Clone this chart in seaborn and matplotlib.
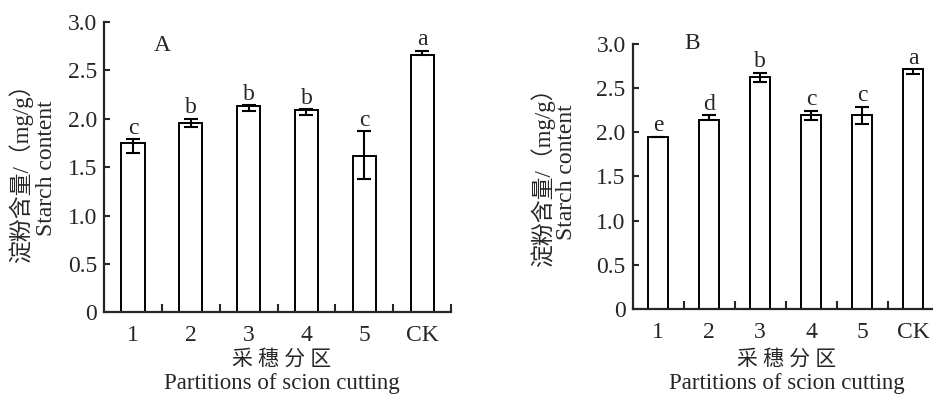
import numpy as np
import pandas as pd
import matplotlib
matplotlib.use('Agg')
import matplotlib.pyplot as plt
import seaborn as sns

sns.set_style('ticks')
plt.rcParams['font.family'] = ['Liberation Serif', 'Noto Sans CJK SC']

# Dane
partycje = ['1', '2', '3', '4', '5', 'CK']

skrobia_a = [1.75, 1.96, 2.13, 2.09, 1.62, 2.66]
blad_a_dol = [0.10, 0.05, 0.05, 0.05, 0.24, 0.00]
blad_a_gora = [0.04, 0.04, 0.01, 0.01, 0.25, 0.04]
litery_a = ['c', 'b', 'b', 'b', 'c', 'a']

skrobia_b = [1.95, 2.14, 2.62, 2.19, 2.19, 2.71]
blad_b_dol = [0.00, 0.00, 0.05, 0.05, 0.10, 0.05]
blad_b_gora = [0.00, 0.05, 0.05, 0.05, 0.10, 0.00]
litery_b = ['e', 'd', 'b', 'c', 'c', 'a']

y_ticks = [0, 0.5, 1.0, 1.5, 2.0, 2.5, 3.0]
y_tick_labels = ['0', '0.5', '1.0', '1.5', '2.0', '2.5', '3.0']

fig = plt.figure(figsize=(9.33, 3.94), dpi=100)
ax_a = fig.add_axes([0.1115, 0.2074, 0.3719, 0.7368])
ax_b = fig.add_axes([0.678, 0.2157, 0.328, 0.6733])


def rysuj_panel(ax, wartosci, dol, gora, litery, panel, panel_xy):
    df = pd.DataFrame({'partycja': partycje, 'skrobia': wartosci})
    sns.barplot(data=df, x='partycja', y='skrobia', color='white',
                edgecolor='black', linewidth=1.4, width=0.4, ax=ax,
                saturation=1)
    pozycje = np.arange(len(partycje))
    ax.errorbar(pozycje, wartosci, yerr=[dol, gora], fmt='none',
                ecolor='black', elinewidth=1.5, capsize=5, capthick=1.5)
    for x, w, g, lit in zip(pozycje, wartosci, gora, litery):
        ax.annotate(lit, (x, w + g), xytext=(0, 4), textcoords='offset points',
                    ha='center', va='baseline', fontsize=17)
    ax.set_xlim(-0.5, 5.5)
    ax.set_ylim(0, 3.0)
    ax.set_yticks(y_ticks)
    ax.set_yticklabels(y_tick_labels)
    ax.set_xticks(np.arange(0.5, 6, 1), minor=True)
    ax.tick_params(axis='x', which='major', length=0, pad=9, labelsize=17)
    ax.tick_params(axis='x', which='minor', direction='in', length=6, width=1.5)
    ax.tick_params(axis='y', direction='in', length=4.5, width=1.5, pad=5,
                   labelsize=17)
    sns.despine(ax=ax)
    for s in ['left', 'bottom']:
        ax.spines[s].set_linewidth(1.6)
    ax.set_xlabel('')
    ax.set_ylabel('')
    ax.text(panel_xy[0], panel_xy[1], panel, transform=ax.transAxes,
            ha='center', va='baseline', fontsize=17)


rysuj_panel(ax_a, skrobia_a, blad_a_dol, blad_a_gora, litery_a, 'A', (0.167, 0.90))
rysuj_panel(ax_b, skrobia_b, blad_b_dol, blad_b_gora, litery_b, 'B', (0.196, 0.979))

# Opisy osi
W, H = 933, 394
for x1, x2, yc in [(21, 46, 168), (543, 567, 172)]:
    fig.text(x1 / W, 1 - yc / H, '淀粉含量/（mg/g）', rotation=90,
             ha='center', va='center', fontsize=16.5)
    fig.text(x2 / W, 1 - yc / H, 'Starch content', rotation=90,
             ha='center', va='center', fontsize=17)

for xc in [282, 787]:
    fig.text(xc / W, 1 - 360 / H, '采 穗 分 区', ha='center', va='center',
             fontsize=15)
    fig.text(xc / W, 0, 'Partitions of scion cutting',
             ha='center', va='bottom', fontsize=16.5)

fig.savefig('out.png', dpi=100)
